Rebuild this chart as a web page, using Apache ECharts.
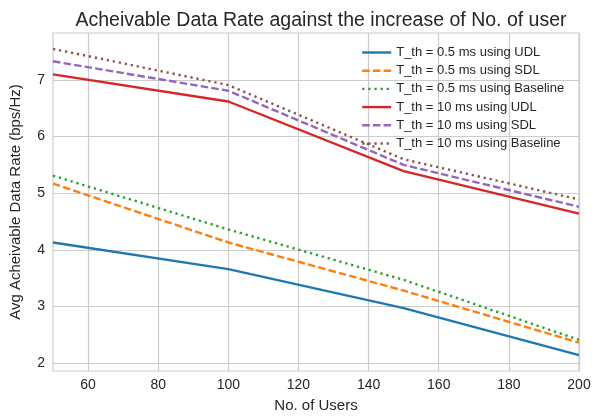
<!DOCTYPE html>
<html>
<head>
<meta charset="utf-8">
<script src="https://cdn.jsdelivr.net/npm/echarts@6/dist/echarts.min.js"></script>
<style>html,body{margin:0;padding:0;background:#fff;}#c{width:603px;height:418px;}</style>
</head>
<body>
<div id="c"></div>
<script>
const users = [50, 100, 150, 200];
const udl05 = [4.13, 3.66, 2.97, 2.14];
const sdl05 = [5.17, 4.13, 3.28, 2.36];
const base05 = [5.31, 4.36, 3.47, 2.41];
const udl10 = [7.10, 6.62, 5.39, 4.64];
const sdl10 = [7.33, 6.81, 5.50, 4.76];
const base10 = [7.55, 6.91, 5.60, 4.89];
const xTicks = [60, 80, 100, 120, 140, 160, 180, 200];
const yTicks = [2, 3, 4, 5, 6, 7];
const names = [
  'T_th = 0.5 ms using UDL',
  'T_th = 0.5 ms using SDL',
  'T_th = 0.5 ms using Baseline',
  'T_th = 10 ms using UDL',
  'T_th = 10 ms using SDL',
  'T_th = 10 ms using Baseline'
];
const seriesData = [udl05, sdl05, base05, udl10, sdl10, base10];
const colors = ['#1f77b4', '#ff7f0e', '#2ca02c', '#d62728', '#9467bd', '#8c564b'];
const dashes = ['solid', [7.5, 3.2], [2.3, 3.8], 'solid', [7.5, 3.2], [2.3, 3.8]];

const font = 'Liberation Sans, Arial, sans-serif';
const txt = '#262626';
const chart = echarts.init(document.getElementById('c'), null, {renderer: 'canvas'});
chart.setOption({
  animation: false,
  backgroundColor: '#fff',
  title: {
    text: 'Acheivable Data Rate against the increase of No. of user',
    left: 316, top: 6, textAlign: 'center',
    textStyle: {fontFamily: font, fontSize: 19.5, fontWeight: 'normal', color: txt}
  },
  legend: {
    orient: 'vertical', left: 356, top: 41,
    itemWidth: 29, itemHeight: 14, itemGap: 5.2,
    itemStyle: {opacity: 0},
    lineStyle: {width: 2.4},
    textStyle: {fontFamily: font, fontSize: 13, color: txt},
    data: names
  },
  grid: {left: 53, right: 24, top: 33, bottom: 43, show: true, borderColor: '#cccccc', borderWidth: 1.2},
  xAxis: {
    type: 'value', min: 50, max: 200,
    name: 'No. of Users', nameLocation: 'middle', nameGap: 27,
    nameTextStyle: {fontFamily: font, fontSize: 15, color: txt},
    axisLine: {show: false}, axisTick: {show: false, customValues: xTicks},
    axisLabel: {customValues: xTicks, fontFamily: font, fontSize: 14, color: txt, margin: 7},
    splitLine: {show: true, lineStyle: {color: '#cccccc', width: 1.2}}
  },
  yAxis: {
    type: 'value', min: 1.86, max: 7.83,
    name: 'Avg Acheivable Data Rate (bps/Hz)', nameLocation: 'middle', nameGap: 30,
    nameTextStyle: {fontFamily: font, fontSize: 15, color: txt},
    axisLine: {show: false}, axisTick: {show: false, customValues: yTicks},
    axisLabel: {customValues: yTicks, fontFamily: font, fontSize: 14, color: txt, margin: 8},
    splitLine: {show: true, lineStyle: {color: '#cccccc', width: 1.2}}
  },
  series: names.map((n, i) => ({
    name: n, type: 'line', symbol: 'none',
    data: users.map((u, j) => [u, seriesData[i][j]]),
    lineStyle: {color: colors[i], width: 2.4, type: dashes[i]},
    itemStyle: {color: colors[i]}
  }))
});
</script>
</body>
</html>
